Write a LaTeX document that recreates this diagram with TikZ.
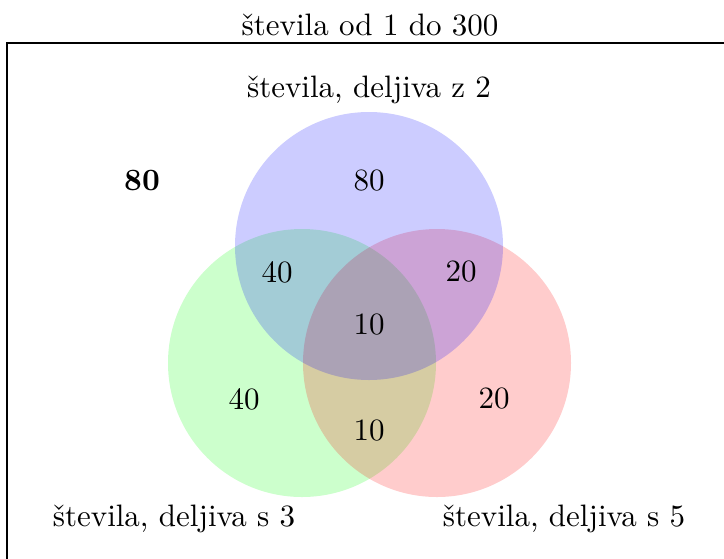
\documentclass[tikz,border=0pt]{standalone}
\usepackage{fontspec}
\begin{document}
\begin{tikzpicture}[x=0.3226pt,y=-0.3226pt,
  lbl/.style={anchor=base,inner sep=0pt},
  num/.style={anchor=center,inner sep=0pt},
  setA/.style={fill=blue,fill opacity=0.2},
  setB/.style={fill=green,fill opacity=0.2},
  setC/.style={fill=red,fill opacity=0.2}]
\useasboundingbox (0,0) rectangle (724,558);
\clip (0,0) rectangle (724,558);
\draw[line width=0.4pt] (7,43) rectangle (760,600);
\fill[setB] (302,363) circle[radius=134];
\fill[setC] (437,363) circle[radius=134];
\fill[setA] (369,246) circle[radius=134];
\node[lbl] (title) at (370,35) {števila od 1 do 300};
\node[lbl] (la) at (369,97) {števila, deljiva z 2};
\node[lbl] (lb) at (174,526) {števila, deljiva s 3};
\node[lbl] (lc) at (564,526) {števila, deljiva s 5};
\node[num] (out) at (142,181) {\textbf{80}};
\node[num] (a) at (369,181) {80};
\node[num] (ab) at (277,272) {40};
\node[num] (ac) at (461,272) {20};
\node[num] (abc) at (369,325) {10};
\node[num] (b) at (244,399) {40};
\node[num] (c) at (494,399) {20};
\node[num] (bc) at (369,431) {10};
\end{tikzpicture}
\end{document}
